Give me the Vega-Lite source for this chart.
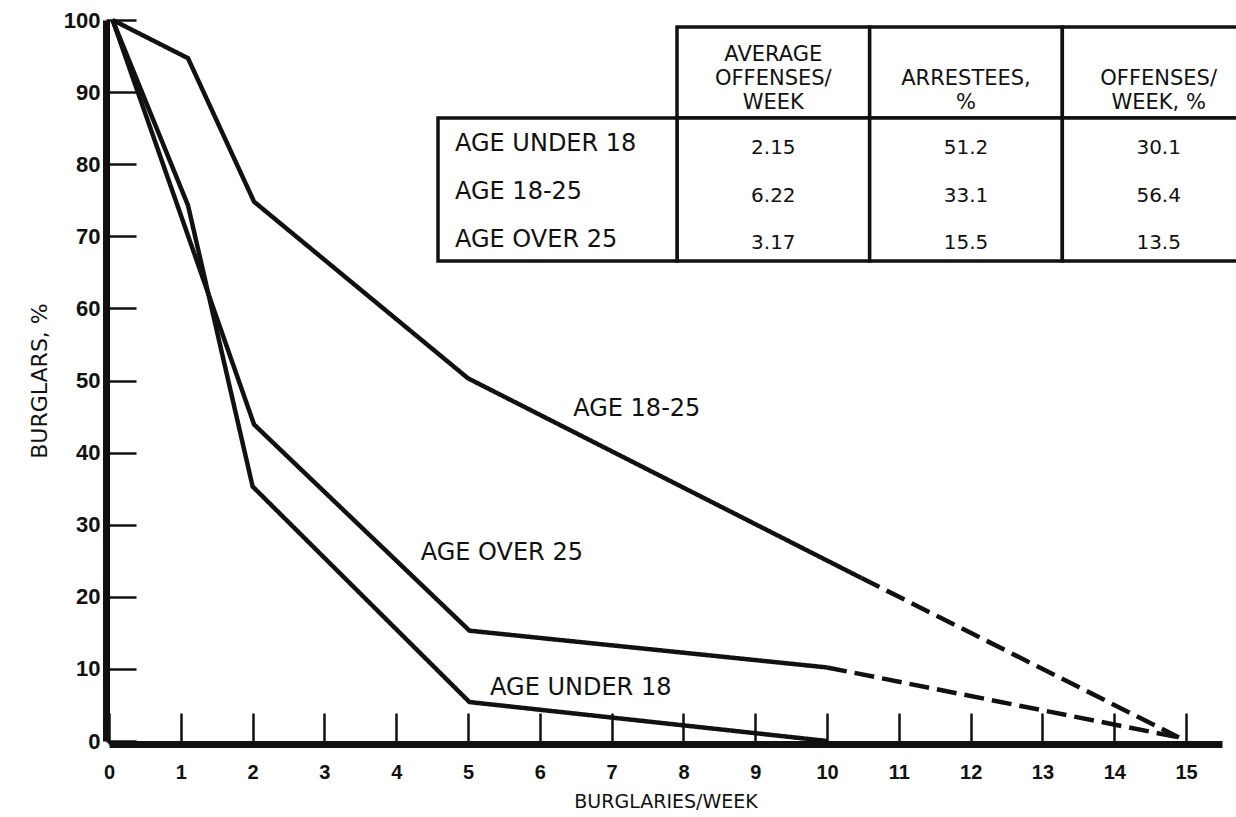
{
  "$schema": "https://vega.github.io/schema/vega-lite/v6.json",
  "width": 1113,
  "height": 721,
  "autosize": {"type": "none"},
  "padding": {"left": 109, "top": 20, "right": 14, "bottom": 76},
  "background": "white",
  "config": {"view": {"stroke": null}, "font": "DejaVu Sans"},
  "datasets": {
    "curves": [
      {"age": "AGE 18-25", "segment": "observed", "x": 0.05, "y": 100},
      {"age": "AGE 18-25", "segment": "observed", "x": 1.1, "y": 94.7},
      {"age": "AGE 18-25", "segment": "observed", "x": 2.02, "y": 74.8},
      {"age": "AGE 18-25", "segment": "observed", "x": 5.0, "y": 50.3},
      {"age": "AGE 18-25", "segment": "observed", "x": 10.48, "y": 22.6},
      {"age": "AGE 18-25", "segment": "extrapolated", "x": 10.48, "y": 22.6},
      {"age": "AGE 18-25", "segment": "extrapolated", "x": 14.9, "y": 0.5},
      {"age": "AGE OVER 25", "segment": "observed", "x": 0.05, "y": 100},
      {"age": "AGE OVER 25", "segment": "observed", "x": 2.02, "y": 43.9},
      {"age": "AGE OVER 25", "segment": "observed", "x": 5.02, "y": 15.3},
      {"age": "AGE OVER 25", "segment": "observed", "x": 10.0, "y": 10.2},
      {"age": "AGE OVER 25", "segment": "extrapolated", "x": 10.0, "y": 10.2},
      {"age": "AGE OVER 25", "segment": "extrapolated", "x": 14.9, "y": 0.5},
      {"age": "AGE UNDER 18", "segment": "observed", "x": 0.05, "y": 100},
      {"age": "AGE UNDER 18", "segment": "observed", "x": 1.1, "y": 74.3},
      {"age": "AGE UNDER 18", "segment": "observed", "x": 2.0, "y": 35.3},
      {"age": "AGE UNDER 18", "segment": "observed", "x": 5.02, "y": 5.4},
      {"age": "AGE UNDER 18", "segment": "observed", "x": 10.0, "y": 0}
    ],
    "curveLabels": [
      {"age": "AGE 18-25", "x": 7.35, "y": 45.1},
      {"age": "AGE OVER 25", "x": 5.47, "y": 25.1},
      {"age": "AGE UNDER 18", "x": 6.57, "y": 6.4}
    ],
    "ageTable": [
      {"group": "AGE UNDER 18", "avgOffenses": 2.15, "arresteesPct": 51.2, "offensesPct": 30.1},
      {"group": "AGE 18-25", "avgOffenses": 6.22, "arresteesPct": 33.1, "offensesPct": 56.4},
      {"group": "AGE OVER 25", "avgOffenses": 3.17, "arresteesPct": 15.5, "offensesPct": 13.5}
    ],
    "tableColumns": [
      {"column": "avgOffenses", "header": "AVERAGE\nOFFENSES/\nWEEK"},
      {"column": "arresteesPct", "header": "ARRESTEES,\n%"},
      {"column": "offensesPct", "header": "OFFENSES/\nWEEK, %"}
    ]
  },
  "layer": [
    {
      "layer": [
        {
          "data": {"name": "curves"},
          "mark": {"type": "line", "strokeWidth": 4.5, "color": "#111", "strokeCap": "butt"},
          "encoding": {
            "x": {
              "field": "x", "type": "quantitative",
              "scale": {"domain": [0, 15.5], "nice": false, "zero": false},
              "axis": {
                "title": "BURGLARIES/WEEK", "format": "d",
                "values": [0, 1, 2, 3, 4, 5, 6, 7, 8, 9, 10, 11, 12, 13, 14, 15],
                "grid": false, "offset": 3,
                "domainColor": "#111", "domainWidth": 7,
                "tickColor": "#111", "tickWidth": 2.5, "tickSize": -31,
                "labelPadding": 49, "labelFont": "Liberation Sans", "labelFontWeight": "bold",
                "labelFontSize": 20, "labelColor": "#111", "labelFlush": false, "labelOverlap": false,
                "titleFont": "DejaVu Sans", "titleFontSize": 19, "titleFontWeight": "normal",
                "titleColor": "#111", "titlePadding": 10
              }
            },
            "y": {
              "field": "y", "type": "quantitative",
              "scale": {"domain": [0, 100], "nice": false},
              "axis": {
                "title": "BURGLARS, %", "format": "d",
                "values": [0, 10, 20, 30, 40, 50, 60, 70, 80, 90, 100],
                "grid": false, "offset": 3,
                "domainColor": "#111", "domainWidth": 7,
                "tickColor": "#111", "tickWidth": 2.5, "tickSize": -30,
                "labelPadding": 36, "labelFont": "Liberation Sans", "labelFontWeight": "bold",
                "labelFontSize": 22, "labelColor": "#111", "labelFlush": false, "labelOverlap": false,
                "titleFont": "DejaVu Sans", "titleFontSize": 22, "titleFontWeight": "normal",
                "titleColor": "#111", "titlePadding": 12
              }
            },
            "detail": {"field": "age", "type": "nominal"},
            "strokeDash": {
              "field": "segment", "type": "nominal",
              "scale": {"domain": ["observed", "extrapolated"], "range": [[1, 0], [20, 8]]},
              "legend": null
            }
          }
        },
        {
          "data": {"name": "curveLabels"},
          "mark": {"type": "text", "fontSize": 24, "align": "center", "baseline": "alphabetic", "color": "#111"},
          "encoding": {
            "x": {"field": "x", "type": "quantitative"},
            "y": {"field": "y", "type": "quantitative"},
            "text": {"field": "age", "type": "nominal"}
          }
        }
      ]
    },
    {
      "data": {"name": "tableColumns"},
      "mark": {"type": "rect", "fill": "white", "stroke": "#111", "strokeWidth": 3.5},
      "encoding": {
        "x": {"field": "column", "type": "nominal",
          "scale": {"type": "band", "domain": ["avgOffenses", "arresteesPct", "offensesPct"], "paddingInner": 0, "paddingOuter": 0, "range": [568, 1146]},
          "axis": null},
        "y": {"datum": "header", "type": "nominal",
          "scale": {"type": "band", "domain": ["header"], "paddingInner": 0, "paddingOuter": 0, "range": [7, 98]},
          "axis": null}
      }
    },
    {
      "data": {"name": "tableColumns"},
      "mark": {"type": "rect", "fill": "white", "stroke": "#111", "strokeWidth": 3.5},
      "encoding": {
        "x": {"field": "column", "type": "nominal",
          "scale": {"type": "band", "domain": ["avgOffenses", "arresteesPct", "offensesPct"], "paddingInner": 0, "paddingOuter": 0, "range": [568, 1146]},
          "axis": null},
        "y": {"datum": "body", "type": "nominal",
          "scale": {"type": "band", "domain": ["body"], "paddingInner": 0, "paddingOuter": 0, "range": [98, 241]},
          "axis": null}
      }
    },
    {
      "data": {"values": [{"part": "row labels"}]},
      "mark": {"type": "rect", "fill": "white", "stroke": "#111", "strokeWidth": 3.5},
      "encoding": {
        "x": {"datum": "label", "type": "nominal",
          "scale": {"type": "band", "domain": ["label"], "paddingInner": 0, "paddingOuter": 0, "range": [329, 568]},
          "axis": null},
        "y": {"datum": "body", "type": "nominal",
          "scale": {"type": "band", "domain": ["body"], "paddingInner": 0, "paddingOuter": 0, "range": [98, 241]},
          "axis": null}
      }
    },
    {
      "data": {"name": "tableColumns"},
      "mark": {"type": "text", "fontSize": 21, "lineBreak": "\n", "lineHeight": 24, "align": "center", "baseline": "bottom", "color": "#111",
        "dy": {"expr": "-24 * (length(split(datum.header, '\\n')) - 1)"}},
      "encoding": {
        "x": {"field": "column", "type": "nominal",
          "scale": {"type": "band", "domain": ["avgOffenses", "arresteesPct", "offensesPct"], "paddingInner": 0, "paddingOuter": 0, "range": [568, 1146]},
          "axis": null},
        "y": {"datum": "header", "type": "nominal", "bandPosition": 0.94,
          "scale": {"type": "band", "domain": ["header"], "paddingInner": 0, "paddingOuter": 0, "range": [7, 98]},
          "axis": null},
        "text": {"field": "header", "type": "nominal"}
      }
    },
    {
      "data": {"name": "ageTable"},
      "mark": {"type": "text", "fontSize": 24, "align": "left", "baseline": "middle", "color": "#111"},
      "encoding": {
        "x": {"datum": "label", "type": "nominal", "bandPosition": 0.071,
          "scale": {"type": "band", "domain": ["label"], "paddingInner": 0, "paddingOuter": 0, "range": [329, 568]},
          "axis": null},
        "y": {"field": "group", "type": "nominal", "bandPosition": 0.55,
          "scale": {"type": "band", "domain": ["AGE UNDER 18", "AGE 18-25", "AGE OVER 25"], "paddingInner": 0, "paddingOuter": 0, "range": [98, 241]},
          "axis": null},
        "text": {"field": "group", "type": "nominal"}
      }
    },
    {
      "data": {"name": "ageTable"},
      "transform": [{"fold": ["avgOffenses", "arresteesPct", "offensesPct"], "as": ["column", "value"]}],
      "mark": {"type": "text", "fontSize": 20, "align": "center", "baseline": "middle", "color": "#111"},
      "encoding": {
        "x": {"field": "column", "type": "nominal",
          "scale": {"type": "band", "domain": ["avgOffenses", "arresteesPct", "offensesPct"], "paddingInner": 0, "paddingOuter": 0, "range": [568, 1146]},
          "axis": null},
        "y": {"field": "group", "type": "nominal", "bandPosition": 0.63,
          "scale": {"type": "band", "domain": ["AGE UNDER 18", "AGE 18-25", "AGE OVER 25"], "paddingInner": 0, "paddingOuter": 0, "range": [98, 241]},
          "axis": null},
        "text": {"field": "value", "type": "quantitative", "format": ".3r"}
      }
    }
  ],
  "resolve": {"scale": {"x": "independent", "y": "independent"}}
}
